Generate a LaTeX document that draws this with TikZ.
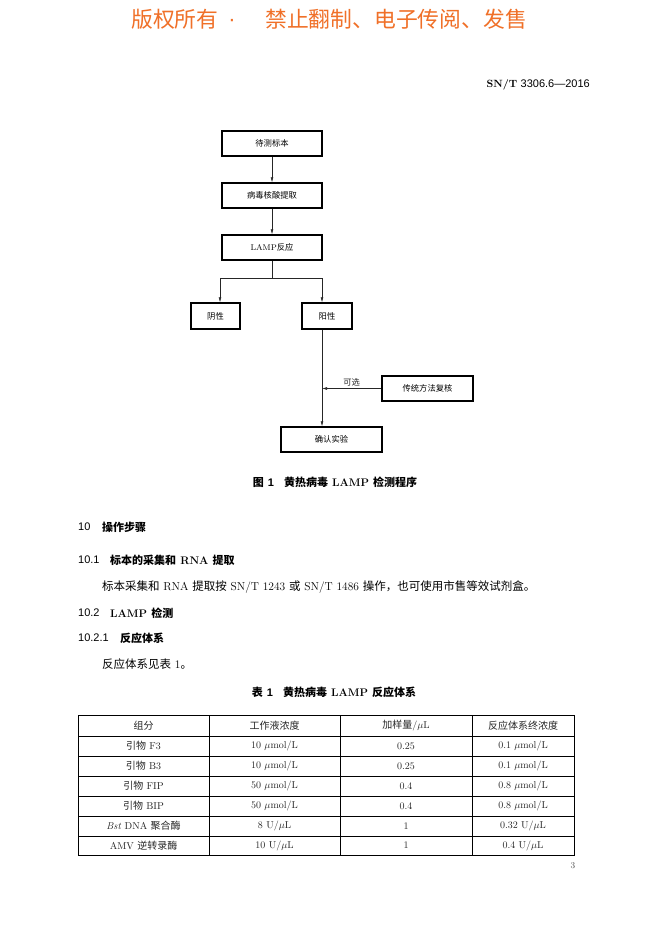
\documentclass[tikz,border=0pt]{standalone}
\usepackage{fontspec}
\newfontfamily\cjk{Noto Sans CJK SC}
\newfontfamily\hsans{Liberation Sans}
\usetikzlibrary{arrows.meta}
\definecolor{wmorange}{RGB}{240,112,40}
\newcommand{\zh}[1]{{\cjk #1}}
\tikzset{
  flowbox/.style={draw=black,line width=1.2pt,minimum height=25pt,inner sep=0pt,font=\fontsize{8.3}{9}\selectfont},
  flowline/.style={line width=0.6pt,black!85},
  wmtext/.style={anchor=west,inner sep=0pt,text=wmorange,font=\fontsize{21.8}{24}\selectfont\cjk},
  bodytext/.style={anchor=west,inner sep=0pt,font=\fontsize{11.5}{13}\selectfont},
  headnum/.style={anchor=west,inner sep=0pt,font=\fontsize{11}{13}\selectfont\hsans},
  headtext/.style={anchor=west,inner sep=0pt,font=\fontsize{11}{13}\selectfont\bfseries},
  captext/.style={inner sep=0pt,font=\fontsize{11}{13}\selectfont\bfseries},
  cell/.style={inner sep=0pt,text=black!85,font=\fontsize{10}{12}\selectfont},
  >={Latex[length=5pt,width=2.8pt]}
}
\begin{document}
\begin{tikzpicture}[x=1pt,y=-1pt]
\useasboundingbox[fill=white] (0,0) rectangle (662,936);

% watermark and header
\node[wmtext] (wmleft) at (131,19) {版权所有};
\node[wmtext,anchor=base,font=\fontsize{21.8}{24}\selectfont\hsans] (wmdot) at (232,26.5) {·};
\node[wmtext] (wmright) at (265,19) {禁止翻制、电子传阅、发售};
\node[anchor=east,inner sep=0pt,font=\fontsize{10.5}{12}\selectfont] (stdno) at (590,85) {\textbf{SN/T}\ {\hsans\fontsize{11}{12}\selectfont 3306.6—2016}};

% flow chart
\node[flowbox,minimum width=100pt] (sample) at (272,143.5) {\zh{待测标本}};
\node[flowbox,minimum width=100pt] (extract) at (272,195.5) {\zh{病毒核酸提取}};
\node[flowbox,minimum width=100pt] (lamp) at (272,247.5) {LAMP\zh{反应}};
\node[flowbox,minimum width=49pt,minimum height=26pt] (neg) at (215.5,316) {\zh{阴性}};
\node[flowbox,minimum width=50pt,minimum height=26pt] (pos) at (327,316) {\zh{阳性}};
\node[flowbox,minimum width=91pt] (recheck) at (427.5,388.5) {\zh{传统方法复核}};
\node[flowbox,minimum width=101pt] (confirm) at (331.5,439.5) {\zh{确认实验}};

\coordinate (split) at (272,278);
\coordinate (splitL) at (220,278);
\coordinate (splitR) at (322,278);

\draw[flowline,->] (sample) -- (extract);
\draw[flowline,->] (extract) -- (lamp);
\draw[flowline] (lamp) -- (split);
\draw[flowline,->] (splitR) -- (splitL) -- (splitL |- neg.north);
\draw[flowline,->] (splitR) -- (splitR |- pos.north);
\draw[flowline,->] (splitR |- pos.south) -- (splitR |- confirm.north);
\draw[flowline,->] (recheck.west) -- (splitR |- recheck.west)
  node[midway,above=2pt,inner sep=0pt,font=\fontsize{8.3}{9}\selectfont] (optional) {\zh{可选}};

\node[captext] (figcap) at (335,482) {\zh{图}\ {\hsans 1}\hspace{10pt}\zh{黄热病毒} LAMP \zh{检测程序}};

% text
\node[headnum] (num10) at (78,527) {10};
\node[headtext] (sec10) at (102,527) {\zh{操作步骤}};
\node[headnum] (num101) at (78,560) {10.1};
\node[headtext] (sec101) at (110,560) {\zh{标本的采集和} RNA \zh{提取}};
\node[bodytext] (para1) at (102,587) {\zh{标本采集和} RNA \zh{提取按} SN/T 1243 \zh{或} SN/T 1486 \zh{操作，也可使用市售等效试剂盒。}};
\node[headnum] (num102) at (78,613) {10.2};
\node[headtext] (sec102) at (110,613) {LAMP \zh{检测}};
\node[headnum] (num1021) at (78,638) {10.2.1};
\node[headtext] (sec1021) at (120,638) {\zh{反应体系}};
\node[bodytext] (para2) at (102,664) {\zh{反应体系见表} 1\zh{。}};

\node[captext] (tabcap) at (334,692) {\zh{表}\ {\hsans 1}\hspace{10pt}\zh{黄热病毒} LAMP \zh{反应体系}};

% table
\draw[line width=0.9pt] (78,715) rectangle (574,855);
\foreach \y in {736,756,776,796,816,836}
  \draw[line width=0.5pt] (78,\y) -- (574,\y);
\foreach \x in {209,340,472}
  \draw[line width=0.5pt] (\x,715) -- (\x,855);

\foreach \y/\a/\b/\c/\d [count=\i] in {
  725.5/{\zh{组分}}/{\zh{工作液浓度}}/{\zh{加样量}/$\mu$L}/{\zh{反应体系终浓度}},
  746/{\zh{引物} F3}/{10 $\mu$mol/L}/{0.25}/{0.1 $\mu$mol/L},
  766/{\zh{引物} B3}/{10 $\mu$mol/L}/{0.25}/{0.1 $\mu$mol/L},
  786/{\zh{引物} FIP}/{50 $\mu$mol/L}/{0.4}/{0.8 $\mu$mol/L},
  806/{\zh{引物} BIP}/{50 $\mu$mol/L}/{0.4}/{0.8 $\mu$mol/L},
  826/{\textit{Bst} DNA \zh{聚合酶}}/{8 U/$\mu$L}/{1}/{0.32 U/$\mu$L},
  845.5/{AMV \zh{逆转录酶}}/{10 U/$\mu$L}/{1}/{0.4 U/$\mu$L}}
{
  \node[cell] (cell\i-1) at (143.5,\y) {\a};
  \node[cell] (cell\i-2) at (274.5,\y) {\b};
  \node[cell] (cell\i-3) at (406,\y) {\c};
  \node[cell] (cell\i-4) at (523,\y) {\d};
}

\node[inner sep=0pt,text=black!70,font=\fontsize{9}{10}\selectfont] (pagenum) at (573,866) {3};

\end{tikzpicture}
\end{document}
